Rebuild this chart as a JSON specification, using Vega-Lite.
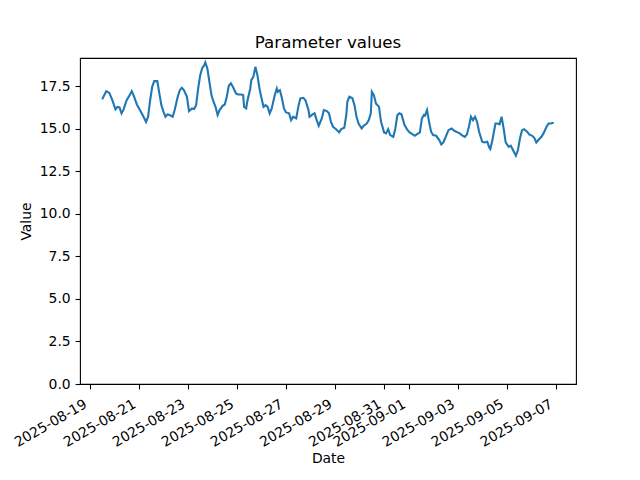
{
  "$schema": "https://vega.github.io/schema/vega-lite/v6.json",
  "width": 496,
  "height": 326,
  "autosize": {"type": "none"},
  "padding": {"left": 80, "top": 58, "right": 64, "bottom": 96},
  "background": "white",
  "title": {"text": "Parameter values", "font": "DejaVu Sans", "fontSize": 16.7, "fontWeight": "normal", "color": "#000", "offset": 6, "anchor": "middle"},
  "config": {
    "view": {"stroke": "#000", "strokeWidth": 1.1},
    "axis": {"grid": false, "domain": false, "tickColor": "#000", "tickWidth": 1.1, "tickSize": 4.9, "labelPadding": 4.9, "labelFont": "DejaVu Sans", "labelFontSize": 13.9, "labelColor": "#000", "titleFont": "DejaVu Sans", "titleFontSize": 13.9, "titleFontWeight": "normal", "titleColor": "#000"}
  },
  "data": {"values": [
    {"date": "2025-08-19T12:00:00", "value": 16.72},
    {"date": "2025-08-19T16:00:00", "value": 17.2},
    {"date": "2025-08-19T19:00:00", "value": 17.1},
    {"date": "2025-08-19T22:00:00", "value": 16.67},
    {"date": "2025-08-20T01:00:00", "value": 16.13},
    {"date": "2025-08-20T03:00:00", "value": 16.28},
    {"date": "2025-08-20T05:00:00", "value": 16.25},
    {"date": "2025-08-20T07:00:00", "value": 15.9},
    {"date": "2025-08-20T09:00:00", "value": 16.13},
    {"date": "2025-08-20T12:00:00", "value": 16.67},
    {"date": "2025-08-20T15:00:00", "value": 16.97},
    {"date": "2025-08-20T17:00:00", "value": 17.2},
    {"date": "2025-08-20T19:00:00", "value": 16.93},
    {"date": "2025-08-20T22:00:00", "value": 16.42},
    {"date": "2025-08-21T01:00:00", "value": 16.09},
    {"date": "2025-08-21T04:00:00", "value": 15.76},
    {"date": "2025-08-21T07:00:00", "value": 15.4},
    {"date": "2025-08-21T09:00:00", "value": 15.7},
    {"date": "2025-08-21T11:00:00", "value": 16.67},
    {"date": "2025-08-21T13:00:00", "value": 17.46},
    {"date": "2025-08-21T15:00:00", "value": 17.79},
    {"date": "2025-08-21T18:00:00", "value": 17.79},
    {"date": "2025-08-21T20:00:00", "value": 17.07},
    {"date": "2025-08-21T22:00:00", "value": 16.38},
    {"date": "2025-08-22T00:00:00", "value": 16.0},
    {"date": "2025-08-22T02:00:00", "value": 15.7},
    {"date": "2025-08-22T04:00:00", "value": 15.84},
    {"date": "2025-08-22T06:00:00", "value": 15.8},
    {"date": "2025-08-22T09:00:00", "value": 15.7},
    {"date": "2025-08-22T11:00:00", "value": 16.09},
    {"date": "2025-08-22T14:00:00", "value": 16.87},
    {"date": "2025-08-22T16:00:00", "value": 17.26},
    {"date": "2025-08-22T18:00:00", "value": 17.4},
    {"date": "2025-08-22T20:00:00", "value": 17.26},
    {"date": "2025-08-22T23:00:00", "value": 16.87},
    {"date": "2025-08-23T01:00:00", "value": 16.03},
    {"date": "2025-08-23T04:00:00", "value": 16.19},
    {"date": "2025-08-23T06:00:00", "value": 16.15},
    {"date": "2025-08-23T08:00:00", "value": 16.38},
    {"date": "2025-08-23T10:00:00", "value": 17.36},
    {"date": "2025-08-23T12:00:00", "value": 18.14},
    {"date": "2025-08-23T14:00:00", "value": 18.57},
    {"date": "2025-08-23T16:00:00", "value": 18.73},
    {"date": "2025-08-23T17:00:00", "value": 18.89},
    {"date": "2025-08-23T19:00:00", "value": 18.54},
    {"date": "2025-08-23T21:00:00", "value": 17.75},
    {"date": "2025-08-23T23:00:00", "value": 16.97},
    {"date": "2025-08-24T01:00:00", "value": 16.58},
    {"date": "2025-08-24T03:00:00", "value": 16.28},
    {"date": "2025-08-24T05:00:00", "value": 15.8},
    {"date": "2025-08-24T07:00:00", "value": 16.09},
    {"date": "2025-08-24T10:00:00", "value": 16.34},
    {"date": "2025-08-24T12:00:00", "value": 16.42},
    {"date": "2025-08-24T14:00:00", "value": 16.87},
    {"date": "2025-08-24T16:00:00", "value": 17.52},
    {"date": "2025-08-24T18:00:00", "value": 17.66},
    {"date": "2025-08-24T20:00:00", "value": 17.46},
    {"date": "2025-08-24T23:00:00", "value": 17.07},
    {"date": "2025-08-25T01:00:00", "value": 17.01},
    {"date": "2025-08-25T04:00:00", "value": 17.01},
    {"date": "2025-08-25T06:00:00", "value": 16.97},
    {"date": "2025-08-25T07:00:00", "value": 16.28},
    {"date": "2025-08-25T09:00:00", "value": 16.19},
    {"date": "2025-08-25T10:00:00", "value": 16.58},
    {"date": "2025-08-25T13:00:00", "value": 17.36},
    {"date": "2025-08-25T14:00:00", "value": 17.85},
    {"date": "2025-08-25T16:00:00", "value": 18.04},
    {"date": "2025-08-25T18:00:00", "value": 18.63},
    {"date": "2025-08-25T20:00:00", "value": 18.14},
    {"date": "2025-08-25T22:00:00", "value": 17.36},
    {"date": "2025-08-26T00:00:00", "value": 16.78},
    {"date": "2025-08-26T02:00:00", "value": 16.28},
    {"date": "2025-08-26T04:00:00", "value": 16.38},
    {"date": "2025-08-26T06:00:00", "value": 16.28},
    {"date": "2025-08-26T08:00:00", "value": 15.9},
    {"date": "2025-08-26T10:00:00", "value": 16.19},
    {"date": "2025-08-26T13:00:00", "value": 16.97},
    {"date": "2025-08-26T15:00:00", "value": 17.36},
    {"date": "2025-08-26T16:00:00", "value": 17.17},
    {"date": "2025-08-26T18:00:00", "value": 17.26},
    {"date": "2025-08-26T20:00:00", "value": 16.78},
    {"date": "2025-08-26T22:00:00", "value": 16.19},
    {"date": "2025-08-27T00:00:00", "value": 15.95},
    {"date": "2025-08-27T03:00:00", "value": 15.9},
    {"date": "2025-08-27T05:00:00", "value": 15.5},
    {"date": "2025-08-27T07:00:00", "value": 15.7},
    {"date": "2025-08-27T10:00:00", "value": 15.6},
    {"date": "2025-08-27T12:00:00", "value": 16.28},
    {"date": "2025-08-27T14:00:00", "value": 16.78},
    {"date": "2025-08-27T17:00:00", "value": 16.81},
    {"date": "2025-08-27T19:00:00", "value": 16.67},
    {"date": "2025-08-27T22:00:00", "value": 16.09},
    {"date": "2025-08-27T23:00:00", "value": 15.7},
    {"date": "2025-08-28T02:00:00", "value": 15.84},
    {"date": "2025-08-28T04:00:00", "value": 15.9},
    {"date": "2025-08-28T06:00:00", "value": 15.5},
    {"date": "2025-08-28T08:00:00", "value": 15.17},
    {"date": "2025-08-28T11:00:00", "value": 15.6},
    {"date": "2025-08-28T13:00:00", "value": 16.09},
    {"date": "2025-08-28T16:00:00", "value": 16.03},
    {"date": "2025-08-28T18:00:00", "value": 15.9},
    {"date": "2025-08-28T20:00:00", "value": 15.4},
    {"date": "2025-08-28T22:00:00", "value": 15.11},
    {"date": "2025-08-29T01:00:00", "value": 14.97},
    {"date": "2025-08-29T04:00:00", "value": 14.78},
    {"date": "2025-08-29T06:00:00", "value": 14.97},
    {"date": "2025-08-29T09:00:00", "value": 15.05},
    {"date": "2025-08-29T11:00:00", "value": 15.8},
    {"date": "2025-08-29T12:00:00", "value": 16.58},
    {"date": "2025-08-29T14:00:00", "value": 16.87},
    {"date": "2025-08-29T17:00:00", "value": 16.78},
    {"date": "2025-08-29T19:00:00", "value": 16.38},
    {"date": "2025-08-29T21:00:00", "value": 15.7},
    {"date": "2025-08-29T23:00:00", "value": 15.3},
    {"date": "2025-08-30T02:00:00", "value": 15.01},
    {"date": "2025-08-30T04:00:00", "value": 15.17},
    {"date": "2025-08-30T07:00:00", "value": 15.3},
    {"date": "2025-08-30T09:00:00", "value": 15.5},
    {"date": "2025-08-30T11:00:00", "value": 15.9},
    {"date": "2025-08-30T12:00:00", "value": 17.17},
    {"date": "2025-08-30T14:00:00", "value": 16.97},
    {"date": "2025-08-30T16:00:00", "value": 16.48},
    {"date": "2025-08-30T19:00:00", "value": 16.28},
    {"date": "2025-08-30T21:00:00", "value": 15.4},
    {"date": "2025-08-31T00:00:00", "value": 14.78},
    {"date": "2025-08-31T02:00:00", "value": 14.72},
    {"date": "2025-08-31T04:00:00", "value": 14.97},
    {"date": "2025-08-31T06:00:00", "value": 14.62},
    {"date": "2025-08-31T09:00:00", "value": 14.52},
    {"date": "2025-08-31T11:00:00", "value": 15.01},
    {"date": "2025-08-31T13:00:00", "value": 15.8},
    {"date": "2025-08-31T15:00:00", "value": 15.9},
    {"date": "2025-08-31T17:00:00", "value": 15.84},
    {"date": "2025-08-31T20:00:00", "value": 15.21},
    {"date": "2025-08-31T23:00:00", "value": 14.91},
    {"date": "2025-09-01T01:00:00", "value": 14.78},
    {"date": "2025-09-01T04:00:00", "value": 14.66},
    {"date": "2025-09-01T06:00:00", "value": 14.58},
    {"date": "2025-09-01T08:00:00", "value": 14.66},
    {"date": "2025-09-01T11:00:00", "value": 14.78},
    {"date": "2025-09-01T13:00:00", "value": 15.6},
    {"date": "2025-09-01T15:00:00", "value": 15.8},
    {"date": "2025-09-01T16:00:00", "value": 15.76},
    {"date": "2025-09-01T18:00:00", "value": 16.09},
    {"date": "2025-09-01T20:00:00", "value": 15.4},
    {"date": "2025-09-01T22:00:00", "value": 14.82},
    {"date": "2025-09-02T00:00:00", "value": 14.62},
    {"date": "2025-09-02T03:00:00", "value": 14.58},
    {"date": "2025-09-02T06:00:00", "value": 14.33},
    {"date": "2025-09-02T08:00:00", "value": 14.07},
    {"date": "2025-09-02T10:00:00", "value": 14.19},
    {"date": "2025-09-02T13:00:00", "value": 14.62},
    {"date": "2025-09-02T15:00:00", "value": 14.91},
    {"date": "2025-09-02T18:00:00", "value": 15.01},
    {"date": "2025-09-02T21:00:00", "value": 14.86},
    {"date": "2025-09-03T00:00:00", "value": 14.78},
    {"date": "2025-09-03T02:00:00", "value": 14.72},
    {"date": "2025-09-03T04:00:00", "value": 14.62},
    {"date": "2025-09-03T07:00:00", "value": 14.52},
    {"date": "2025-09-03T09:00:00", "value": 14.66},
    {"date": "2025-09-03T11:00:00", "value": 15.11},
    {"date": "2025-09-03T13:00:00", "value": 15.7},
    {"date": "2025-09-03T15:00:00", "value": 15.5},
    {"date": "2025-09-03T17:00:00", "value": 15.7},
    {"date": "2025-09-03T19:00:00", "value": 15.4},
    {"date": "2025-09-03T21:00:00", "value": 14.82},
    {"date": "2025-09-04T00:00:00", "value": 14.23},
    {"date": "2025-09-04T02:00:00", "value": 14.19},
    {"date": "2025-09-04T05:00:00", "value": 14.23},
    {"date": "2025-09-04T07:00:00", "value": 13.88},
    {"date": "2025-09-04T08:00:00", "value": 13.8},
    {"date": "2025-09-04T10:00:00", "value": 14.33},
    {"date": "2025-09-04T13:00:00", "value": 15.3},
    {"date": "2025-09-04T15:00:00", "value": 15.3},
    {"date": "2025-09-04T17:00:00", "value": 15.25},
    {"date": "2025-09-04T19:00:00", "value": 15.7},
    {"date": "2025-09-04T21:00:00", "value": 15.01},
    {"date": "2025-09-04T23:00:00", "value": 14.19},
    {"date": "2025-09-05T02:00:00", "value": 13.93},
    {"date": "2025-09-05T04:00:00", "value": 14.0},
    {"date": "2025-09-05T07:00:00", "value": 13.64},
    {"date": "2025-09-05T09:00:00", "value": 13.41},
    {"date": "2025-09-05T11:00:00", "value": 13.74},
    {"date": "2025-09-05T13:00:00", "value": 14.43},
    {"date": "2025-09-05T15:00:00", "value": 14.91},
    {"date": "2025-09-05T17:00:00", "value": 14.97},
    {"date": "2025-09-05T20:00:00", "value": 14.82},
    {"date": "2025-09-05T22:00:00", "value": 14.66},
    {"date": "2025-09-06T01:00:00", "value": 14.58},
    {"date": "2025-09-06T03:00:00", "value": 14.46},
    {"date": "2025-09-06T05:00:00", "value": 14.19},
    {"date": "2025-09-06T07:00:00", "value": 14.33},
    {"date": "2025-09-06T10:00:00", "value": 14.52},
    {"date": "2025-09-06T12:00:00", "value": 14.72},
    {"date": "2025-09-06T15:00:00", "value": 15.11},
    {"date": "2025-09-06T17:00:00", "value": 15.3},
    {"date": "2025-09-06T19:00:00", "value": 15.3},
    {"date": "2025-09-06T22:00:00", "value": 15.35}
  ]},
  "mark": {"type": "line", "color": "#1f77b4", "strokeWidth": 2.1, "clip": true},
  "encoding": {
    "x": {
      "field": "date", "type": "temporal", "title": "Date",
      "scale": {"domain": ["2025-08-18T14:20:00", "2025-09-07T19:50:00"]},
      "axis": {
        "values": ["2025-08-19T00:00:00", "2025-08-21T00:00:00", "2025-08-23T00:00:00", "2025-08-25T00:00:00", "2025-08-27T00:00:00", "2025-08-29T00:00:00", "2025-08-31T00:00:00", "2025-09-01T00:00:00", "2025-09-03T00:00:00", "2025-09-05T00:00:00", "2025-09-07T00:00:00"],
        "format": "%Y-%m-%d", "labelAngle": -30, "labelAlign": "right", "labelBaseline": "top", "labelOverlap": false, "labelFlush": false,
        "labelOffset": -8, "labelPadding": 8,
        "titleY": 78, "titleBaseline": "alphabetic"
      }
    },
    "y": {
      "field": "value", "type": "quantitative", "title": "Value",
      "scale": {"domain": [0, 19.15], "nice": false, "zero": true},
      "axis": {"values": [0, 2.5, 5, 7.5, 10, 12.5, 15, 17.5], "format": ".1f", "titlePadding": 6}
    }
  }
}
